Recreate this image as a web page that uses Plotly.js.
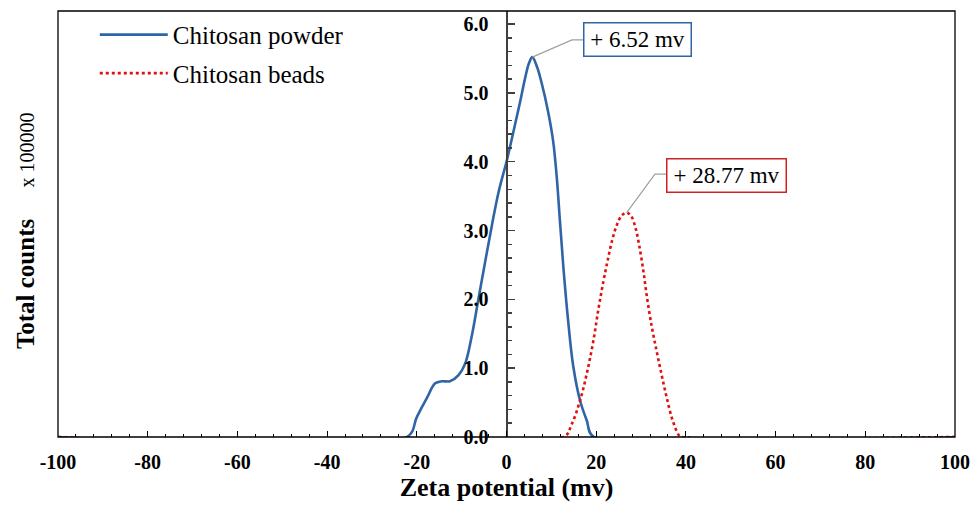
<!DOCTYPE html>
<html>
<head>
<meta charset="utf-8">
<script src="https://cdn.plot.ly/plotly-3.0.1.min.js"></script>
<style>
  html, body { margin: 0; padding: 0; background: #fff; }
  #chart { width: 974px; height: 506px; }
</style>
</head>
<body>
<div id="chart"></div>
<script>
// ---- data ----
const powderName = 'Chitosan powder';
const beadsName = 'Chitosan beads';

const powderX = [-100, -22.2, -20.0, -17.8, -15.9, -14.4, -12.6, -10.7, -9.2, -7.8, -6.3, -4.8, -3.3, -1.8, 0, 0.8, 2.0, 3.0, 4.1, 5.0, 5.76, 6.8, 7.85, 9.3, 10.4, 11.2, 11.9, 12.7, 13.8, 14.9, 16.4, 17.9, 19.5, 100];
const powderY = [0, 0, 0.29, 0.56, 0.78, 0.81, 0.81, 0.90, 1.07, 1.45, 1.99, 2.53, 3.06, 3.55, 4.0, 4.22, 4.57, 4.86, 5.20, 5.43, 5.52, 5.38, 5.14, 4.72, 4.30, 3.78, 3.15, 2.45, 1.65, 1.02, 0.53, 0.24, 0, 0];

const beadsX = [-100, 12.7, 14.5, 16.4, 18.0, 19.4, 20.5, 21.6, 22.6, 23.6, 24.6, 25.7, 26.8, 27.8, 28.8, 29.6, 30.5, 31.3, 32.4, 33.5, 34.6, 35.7, 37.0, 38.5, 39.2, 100];
const beadsY = [0, 0, 0.18, 0.53, 0.95, 1.41, 1.86, 2.26, 2.58, 2.87, 3.08, 3.22, 3.26, 3.21, 3.03, 2.78, 2.42, 2.04, 1.60, 1.24, 0.90, 0.58, 0.25, 0.02, 0, 0];

const xTickVals = [-100, -80, -60, -40, -20, 0, 20, 40, 60, 80, 100];
const xTickLabels = ['-100', '-80', '-60', '-40', '-20', '0', '20', '40', '60', '80', '100'];

const powderPeakLabel = '+ 6.52 mv';
const beadsPeakLabel = '+ 28.77 mv';

// ---- styling ----
const FONT = '"Liberation Serif", "Times New Roman", serif';
const BLUE = '#2f65a6';
const RED = '#e01010';

function peakOf(xs, ys) {
  let k = 0;
  for (let i = 1; i < ys.length; i++) if (ys[i] > ys[k]) k = i;
  return [xs[k], ys[k]];
}
const pPeak = peakOf(powderX, powderY);
const bPeak = peakOf(beadsX, beadsY);

const traces = [
  {
    x: powderX, y: powderY, name: powderName, type: 'scatter', mode: 'lines', legendgroup: 'a',
    line: { color: BLUE, width: 2.6, shape: 'spline', smoothing: 1 }
  },
  {
    x: beadsX, y: beadsY, name: beadsName, type: 'scatter', mode: 'lines', legendgroup: 'b',
    line: { color: RED, width: 2.6, dash: 'dot', shape: 'spline', smoothing: 1 }
  }
];

const layout = {
  width: 974, height: 506,
  margin: { l: 58, r: 19, t: 11, b: 69 },
  paper_bgcolor: '#fff', plot_bgcolor: '#fff',
  font: { family: FONT, color: '#000' },
  showlegend: true,
  legend: {
    x: 0.041, y: 0.998, xanchor: 'left', yanchor: 'top',
    font: { family: FONT, size: 25, color: '#000' },
    bgcolor: 'rgba(0,0,0,0)', itemwidth: 68, tracegroupgap: 3, traceorder: 'grouped'
  },
  xaxis: {
    range: [-100, 100],
    tickmode: 'array', tickvals: xTickVals, ticktext: xTickLabels,
    ticks: 'inside', ticklen: 6, tickcolor: '#000', tickwidth: 1,
    minor: { tickmode: 'linear', tick0: -100, dtick: 4, ticks: 'inside', ticklen: 3, tickcolor: '#000', tickwidth: 1 },
    tickfont: { family: FONT, size: 20, weight: 'bold', color: '#000' },
    ticklabelstandoff: 11,
    showgrid: false, zeroline: false, showline: false,
    title: { text: 'Zeta potential (mv)', font: { family: FONT, size: 26, weight: 'bold', color: '#000' }, standoff: 4 }
  },
  yaxis: {
    range: [0, 6.19],
    anchor: 'free', position: 0.5, side: 'left',
    dtick: 1, tick0: 0, tickformat: '.1f',
    ticks: 'inside', ticklen: 7, tickcolor: '#404040', tickwidth: 1.5,
    minor: { dtick: 0.2, ticks: 'inside', ticklen: 4, tickcolor: '#404040', tickwidth: 1.5 },
    tickfont: { family: FONT, size: 20, weight: 'bold', color: '#000' },
    ticklabelstandoff: 13,
    showline: true, linecolor: '#404040', linewidth: 2,
    showgrid: false, zeroline: false
  },
  shapes: [
    { type: 'rect', xref: 'paper', yref: 'paper', x0: 0, x1: 1, y0: 0, y1: 1,
      line: { color: '#000', width: 1.3 }, fillcolor: 'rgba(0,0,0,0)', layer: 'above' },
    { type: 'path', xref: 'x', yref: 'y',
      path: 'M' + pPeak[0] + ',' + pPeak[1] + ' L14.6,5.77 L17.06,5.77',
      line: { color: '#a0a0a0', width: 1.2 } },
    { type: 'path', xref: 'x', yref: 'y',
      path: 'M' + bPeak[0] + ',' + bPeak[1] + ' L33.1,3.82 L35.6,3.82',
      line: { color: '#a0a0a0', width: 1.2 } }
  ],
  annotations: [
    { xref: 'x', yref: 'y', x: 29.2, y: 5.776, text: powderPeakLabel, showarrow: false,
      font: { family: FONT, size: 23, color: '#000' },
      width: 100, height: 26, borderpad: 3, bordercolor: BLUE, borderwidth: 1.5, bgcolor: '#fff' },
    { xref: 'x', yref: 'y', x: 49.05, y: 3.80, text: beadsPeakLabel, showarrow: false,
      font: { family: FONT, size: 23, color: '#000' },
      width: 112, height: 26, borderpad: 3, bordercolor: '#d42020', borderwidth: 1.5, bgcolor: '#fff' },
    { xref: 'paper', yref: 'paper', x: -0.0368, y: 0.4856, textangle: -90, showarrow: false,
      xanchor: 'center', yanchor: 'middle',
      text: '<b>Total counts</b>\u00a0\u00a0\u00a0\u00a0\u00a0<span style="font-size:20px">x 100000</span>',
      font: { family: FONT, size: 25, color: '#000' } }
  ]
};

Plotly.newPlot('chart', traces, layout, { displayModeBar: false, staticPlot: true });
</script>
</body>
</html>
